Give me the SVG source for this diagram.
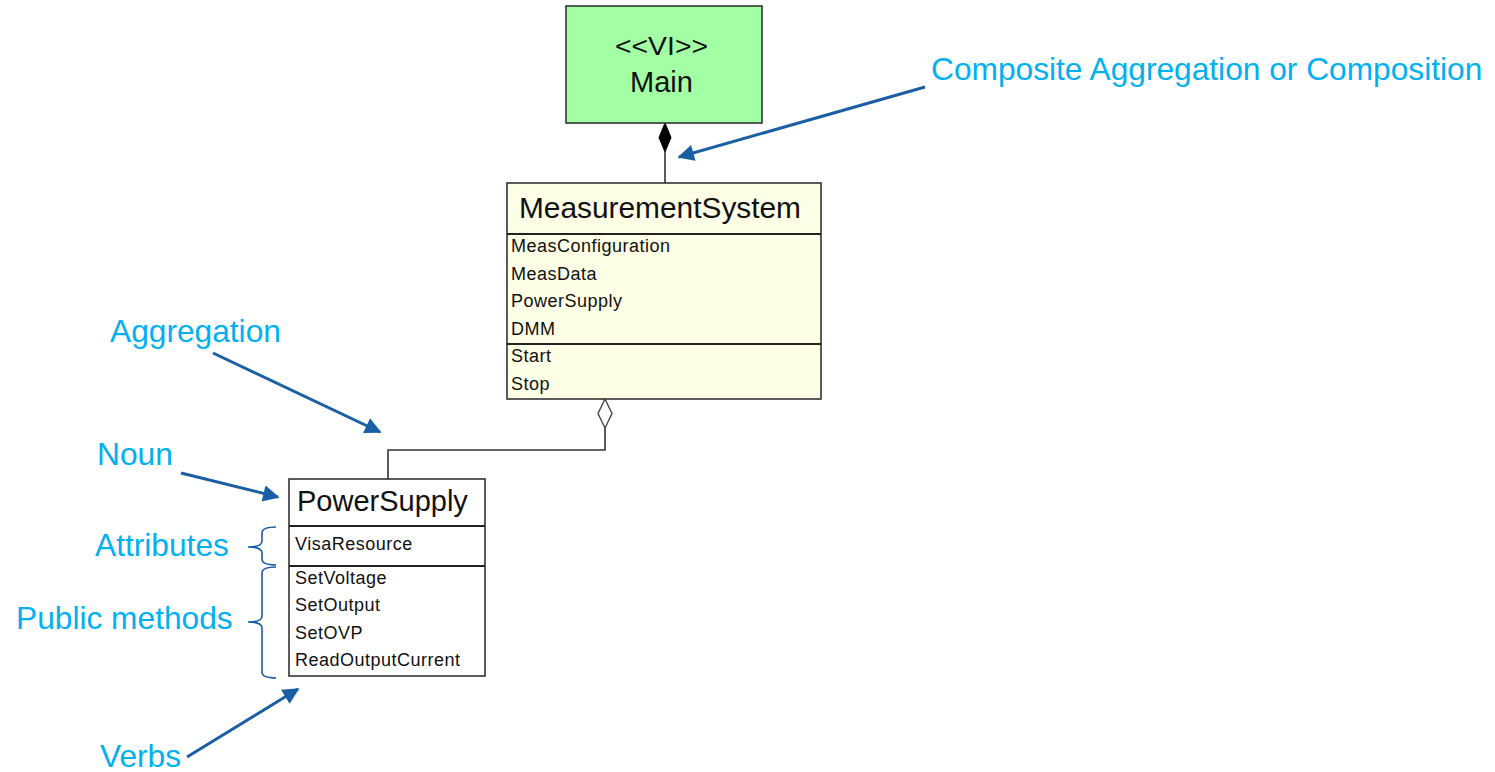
<svg xmlns="http://www.w3.org/2000/svg" width="1495" height="772" viewBox="0 0 1495 772">
<style>
.box{stroke:#333;stroke-width:1.6}
.sep{stroke:#222;stroke-width:2}
.t{font-family:"Liberation Sans",Arial,sans-serif;fill:#111}
.big{font-size:29px}
.small{font-size:18px;letter-spacing:0.5px}
.lbl{font-family:"Liberation Sans",Arial,sans-serif;font-size:31.7px;fill:#00B0F0}
.con{stroke:#333;stroke-width:1.6;fill:none}
.arr{stroke:#1A5EA3;stroke-width:3;fill:none;marker-end:url(#ah)}
.brace{stroke:#1A5EA3;stroke-width:1.6;fill:none}
</style>
<defs>
<marker id="ah" viewBox="0 0 10 10" refX="9" refY="5" markerWidth="6" markerHeight="5.5" orient="auto" markerUnits="strokeWidth">
<path d="M0,0 L10,5 L0,10 z" fill="#1A5EA3"/>
</marker>
</defs>
<rect width="1495" height="772" fill="#fff"/>

<g id="connectors">
<path class="con" d="M665,152 V183"/>
<path d="M665,123 L671,137.5 L665,152 L659,137.5 Z" fill="#000" stroke="#000" stroke-width="1"/>
<path class="con" d="M605,428 V450 H388 V479"/>
<path d="M605,399 L612,413.5 L605,428 L598,413.5 Z" fill="#fff" stroke="#444" stroke-width="1.4"/>
</g>

<g id="main">
<rect class="box" x="566" y="6" width="196" height="117" fill="#A3FFA3"/>
<text class="t" x="615" y="55" font-size="25" textLength="93" lengthAdjust="spacingAndGlyphs">&lt;&lt;VI&gt;&gt;</text>
<text class="t big" x="630" y="92">Main</text>
</g>

<g id="measurementsystem">
<rect class="box" x="507" y="183" width="314" height="216" fill="#FDFEE6"/>
<line class="sep" x1="507" y1="234" x2="821" y2="234"/>
<line class="sep" x1="507" y1="344" x2="821" y2="344"/>
<text class="t big" x="519" y="218" textLength="282" lengthAdjust="spacingAndGlyphs">MeasurementSystem</text>
<text class="t small" x="511" y="252">MeasConfiguration</text>
<text class="t small" x="511" y="279.5">MeasData</text>
<text class="t small" x="511" y="307">PowerSupply</text>
<text class="t small" x="511" y="334.5">DMM</text>
<text class="t small" x="511" y="362">Start</text>
<text class="t small" x="511" y="390">Stop</text>
</g>

<g id="powersupply">
<rect class="box" x="289" y="479" width="196" height="197" fill="#fff"/>
<line class="sep" x1="289" y1="526" x2="485" y2="526"/>
<line class="sep" x1="289" y1="566" x2="485" y2="566"/>
<text class="t big" x="297" y="511">PowerSupply</text>
<text class="t small" x="295" y="550">VisaResource</text>
<text class="t small" x="295" y="583.5">SetVoltage</text>
<text class="t small" x="295" y="611">SetOutput</text>
<text class="t small" x="295" y="638.5">SetOVP</text>
<text class="t small" x="295" y="666">ReadOutputCurrent</text>
</g>

<g id="annotations">
<text class="lbl" x="931" y="80">Composite Aggregation or Composition</text>
<text class="lbl" x="110" y="342">Aggregation</text>
<text class="lbl" x="97" y="465">Noun</text>
<text class="lbl" x="95" y="556">Attributes</text>
<text class="lbl" x="16" y="629">Public methods</text>
<text class="lbl" x="100" y="767">Verbs</text>
<line class="arr" x1="925" y1="87" x2="679" y2="157"/>
<line class="arr" x1="213" y1="353" x2="380" y2="432"/>
<line class="arr" x1="181" y1="473" x2="278" y2="497"/>
<line class="arr" x1="187" y1="757" x2="298" y2="689"/>
<path class="brace" d="M276,527 Q262,527 262,533 V541 Q262,547 248,547 Q262,547 262,553 V559 Q262,565 276,565"/>
<path class="brace" d="M276,567 Q262,567 262,573 V616 Q262,622 248,622 Q262,622 262,628 V672 Q262,678 276,678"/>
</g>
</svg>
